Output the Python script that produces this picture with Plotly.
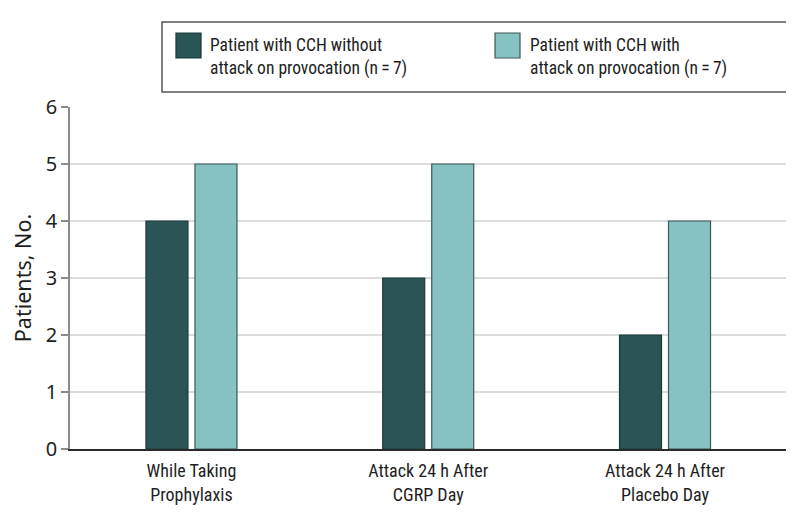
import plotly.graph_objects as go

categories = ["While Taking<br>Prophylaxis", "Attack 24 h After<br>CGRP Day", "Attack 24 h After<br>Placebo Day"]
without_attack = [4, 3, 2]
with_attack = [5, 5, 4]
series_names = ["Patient with CCH without<br>attack on provocation (n\u2009=\u20097)",
                "Patient with CCH with<br>attack on provocation (n\u2009=\u20097)"]
series_colors = ["#2b5454", "#86c2c1"]
series_edges = ["#1d3a3a", "#3e5656"]
y_ticks = [0, 1, 2, 3, 4, 5, 6]

COND = "Roboto Condensed"
WIDE = "Noto Sans"
TXT = "#1e1e1e"

fig = go.Figure()
for vals, name, col, edge in zip([without_attack, with_attack], series_names, series_colors, series_edges):
    fig.add_trace(go.Bar(x=categories, y=vals, name=name, showlegend=False,
                         marker=dict(color=col, line=dict(color=edge, width=1.2))))

# Legend drawn as a boxed key above the plot
shapes = [dict(type="rect", xref="paper", yref="paper", x0=0.1285, x1=1.0014, y0=1.0439, y1=1.2485,
               line=dict(color="#555555", width=1.5), fillcolor="white")]
sw_x = [(0.148, 0.183), (0.5936, 0.6285)]
tx_x = [0.1927, 0.6397]
annotations = []
for (x0, x1), tx, name, col, edge in zip(sw_x, tx_x, series_names, series_colors, series_edges):
    shapes.append(dict(type="rect", xref="paper", yref="paper", x0=x0, x1=x1, y0=1.1433, y1=1.2164,
                       line=dict(color=edge, width=1.2), fillcolor=col))
    annotations.append(dict(xref="paper", yref="paper", x=tx, y=1.146, xanchor="left", yanchor="middle",
                            align="left", text=name, showarrow=False,
                            font=dict(family=COND, size=17.5, color=TXT)))

fig.update_layout(
    width=794, height=525,
    margin=dict(l=62, r=16, t=99, b=84),
    paper_bgcolor="white", plot_bgcolor="white",
    barmode="group", bargap=0.586, bargroupgap=0.143,
    font=dict(family=COND, size=18, color=TXT),
    showlegend=False,
    shapes=shapes, annotations=annotations,
    xaxis=dict(range=[-0.513, 2.511], showline=True, linecolor="#2a2a2a", linewidth=1.5, ticks="",
               tickfont=dict(family=COND, size=18, color=TXT), showgrid=False, automargin=False,
               ticklabelstandoff=5),
    yaxis=dict(range=[0, 6], tickvals=y_ticks, showline=True, linecolor="#8a8a8a", linewidth=1.5,
               ticks="outside", ticklen=7, tickcolor="#8a8a8a", tickwidth=1.5,
               gridcolor="#dcdcdc", gridwidth=1.5, zeroline=False, automargin=False,
               tickfont=dict(family=WIDE, size=20, color=TXT),
               title=dict(text="Patients, No.", font=dict(family=WIDE, size=21.5, color=TXT), standoff=17)),
)

fig.write_html("out.html")
